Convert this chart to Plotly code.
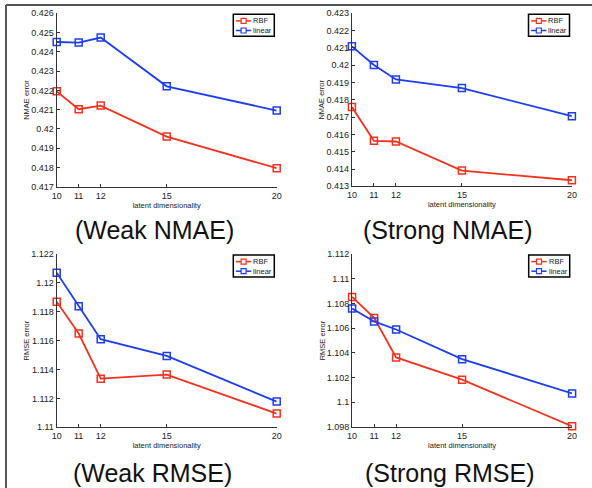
import plotly.graph_objects as go

# ---- data ----
dims = [10, 11, 12, 15, 20]

weak_nmae_rbf = [0.42195, 0.42102, 0.42121, 0.41960, 0.41796]
weak_nmae_lin = [0.42451, 0.42448, 0.42474, 0.42221, 0.42095]

strong_nmae_rbf = [0.41758, 0.41563, 0.41559, 0.41391, 0.41335]
strong_nmae_lin = [0.42109, 0.42001, 0.41918, 0.41868, 0.41705]

weak_rmse_rbf = [1.11870, 1.11649, 1.11337, 1.11365, 1.11095]
weak_rmse_lin = [1.12071, 1.11838, 1.11610, 1.11494, 1.11178]

strong_rmse_rbf = [1.10853, 1.10683, 1.10363, 1.10183, 1.09806]
strong_rmse_lin = [1.10759, 1.10654, 1.10589, 1.10349, 1.10072]

weak_nmae_ticks = [0.417, 0.418, 0.419, 0.420, 0.421, 0.422, 0.423, 0.424, 0.425, 0.426]
weak_nmae_labels = ["0.417", "0.418", "0.419", "0.42", "0.421", "0.422", "0.423", "0.424", "0.425", "0.426"]
strong_nmae_ticks = [0.413, 0.414, 0.415, 0.416, 0.417, 0.418, 0.419, 0.420, 0.421, 0.422, 0.423]
strong_nmae_labels = ["0.413", "0.414", "0.415", "0.416", "0.417", "0.418", "0.419", "0.42", "0.421", "0.422", "0.423"]
weak_rmse_ticks = [1.110, 1.112, 1.114, 1.116, 1.118, 1.120, 1.122]
weak_rmse_labels = ["1.11", "1.112", "1.114", "1.116", "1.118", "1.12", "1.122"]
strong_rmse_ticks = [1.098, 1.100, 1.102, 1.104, 1.106, 1.108, 1.110, 1.112]
strong_rmse_labels = ["1.098", "1.1", "1.102", "1.104", "1.106", "1.108", "1.11", "1.112"]

series_names = ["RBF", "linear"]
captions = ["(Weak NMAE)", "(Strong NMAE)", "(Weak RMSE)", "(Strong RMSE)"]
ytitles = ["NMAE error", "NMAE error", "RMSE error", "RMSE error"]
xtitle = "latent dimensionality"

RED = "#f2321e"
BLUE = "#1e3cf0"
COLORS = [RED, BLUE]
W, H = 592, 488

panels = [
    (weak_nmae_rbf, weak_nmae_lin, weak_nmae_ticks, weak_nmae_labels),
    (strong_nmae_rbf, strong_nmae_lin, strong_nmae_ticks, strong_nmae_labels),
    (weak_rmse_rbf, weak_rmse_lin, weak_rmse_ticks, weak_rmse_labels),
    (strong_rmse_rbf, strong_rmse_lin, strong_rmse_ticks, strong_rmse_labels),
]

# pixel geometry (left, right, top, bottom)
boxes = [
    (56.7, 276.7, 13.3, 186.7),
    (351.9, 571.9, 13.3, 186.3),
    (56.7, 276.7, 254.0, 427.3),
    (352.1, 572.1, 254.0, 427.0),
]
cap_pos = [(154.5, 230), (447, 230), (152.5, 473), (449, 473)]


def px(x):
    return x / W


def py(y):
    return 1 - y / H


fig = go.Figure()
layout = dict(
    width=W, height=H,
    margin=dict(l=0, r=0, t=0, b=0, autoexpand=False),
    paper_bgcolor="white", plot_bgcolor="white",
    font=dict(family="Liberation Sans, Arial, sans-serif", color="#222"),
    showlegend=False,
)
annotations = []
shapes = []
for i, (rbf, lin, tv, tt) in enumerate(panels):
    n = "" if i == 0 else str(i + 1)
    xa, ya = "x" + n, "y" + n
    for vals, name, col in ((rbf, series_names[0], RED), (lin, series_names[1], BLUE)):
        fig.add_trace(go.Scatter(
            x=dims, y=vals, name=name, mode="lines+markers",
            xaxis=xa, yaxis=ya,
            line=dict(color=col, width=1.8),
            marker=dict(symbol="square-open", size=7, color=col, line=dict(width=1.5, color=col)),
            cliponaxis=False,
        ))
    l, r, t, b = boxes[i]
    layout["xaxis" + n] = dict(
        domain=[px(l), px(r)], anchor=ya, range=[10, 20], automargin=False,
        tickvals=dims, ticktext=[str(d) for d in dims],
        showline=True, linecolor="#333", linewidth=1.2,
        ticks="inside", ticklen=3, tickcolor="#333",
        showgrid=False, zeroline=False,
        tickfont=dict(size=9, color="#222"),
        title=dict(text=xtitle, font=dict(size=7.5, color="#222"), standoff=0),
    )
    layout["yaxis" + n] = dict(
        domain=[py(b), py(t)], anchor=xa, range=[tv[0], tv[-1]], automargin=False,
        tickvals=tv, ticktext=tt,
        showline=True, linecolor="#333", linewidth=1.2,
        ticks="inside", ticklen=3, tickcolor="#333",
        showgrid=False, zeroline=False,
        tickfont=dict(size=9, color="#222"),
        title=dict(text=ytitles[i], font=dict(size=7.5, color="#222"), standoff=0),
    )
    # compact MATLAB-style legend box
    bx0, bx1, by0, by1 = r - 43.4, r - 2.4, t + 1, t + 23
    shapes.append(dict(type="rect", xref="paper", yref="paper",
                       x0=px(bx0), x1=px(bx1), y0=py(by1), y1=py(by0),
                       line=dict(color="black", width=1.5), fillcolor="white", layer="above"))
    for k, (name, col) in enumerate(zip(series_names, COLORS)):
        ry = t + 7.6 + k * 9.6
        shapes.append(dict(type="line", xref="paper", yref="paper",
                           x0=px(r - 40.8), x1=px(r - 25.5), y0=py(ry), y1=py(ry),
                           line=dict(color=col, width=1.5), layer="above"))
        shapes.append(dict(type="rect", xref="paper", yref="paper",
                           x0=px(r - 35.6), x1=px(r - 30.6), y0=py(ry + 2.5), y1=py(ry - 2.5),
                           line=dict(color=col, width=1.2), fillcolor="white", layer="above"))
        annotations.append(dict(
            text=name, x=px(r - 24.5), y=py(ry), xref="paper", yref="paper",
            xanchor="left", yanchor="middle", showarrow=False,
            font=dict(size=7.5, color="#222"), borderpad=0,
        ))
    cx, cy = cap_pos[i]
    annotations.append(dict(
        text=captions[i], x=px(cx), y=py(cy), xref="paper", yref="paper",
        xanchor="center", yanchor="middle", showarrow=False,
        font=dict(size=25, color="#111", family="Liberation Sans, Arial, sans-serif"),
    ))

shapes += [
    dict(type="line", xref="paper", yref="paper", x0=px(6), x1=px(6), y0=0, y1=py(5),
         line=dict(color="#555", width=2)),
    dict(type="line", xref="paper", yref="paper", x0=px(6), x1=1, y0=py(5), y1=py(5),
         line=dict(color="#555", width=2)),
]
layout["annotations"] = annotations
layout["shapes"] = shapes
fig.update_layout(**layout)
fig.write_html(
    "out.html",
    config={"displayModeBar": False},
    post_script="document.body.style.margin='0';document.body.style.overflow='hidden';",
)
